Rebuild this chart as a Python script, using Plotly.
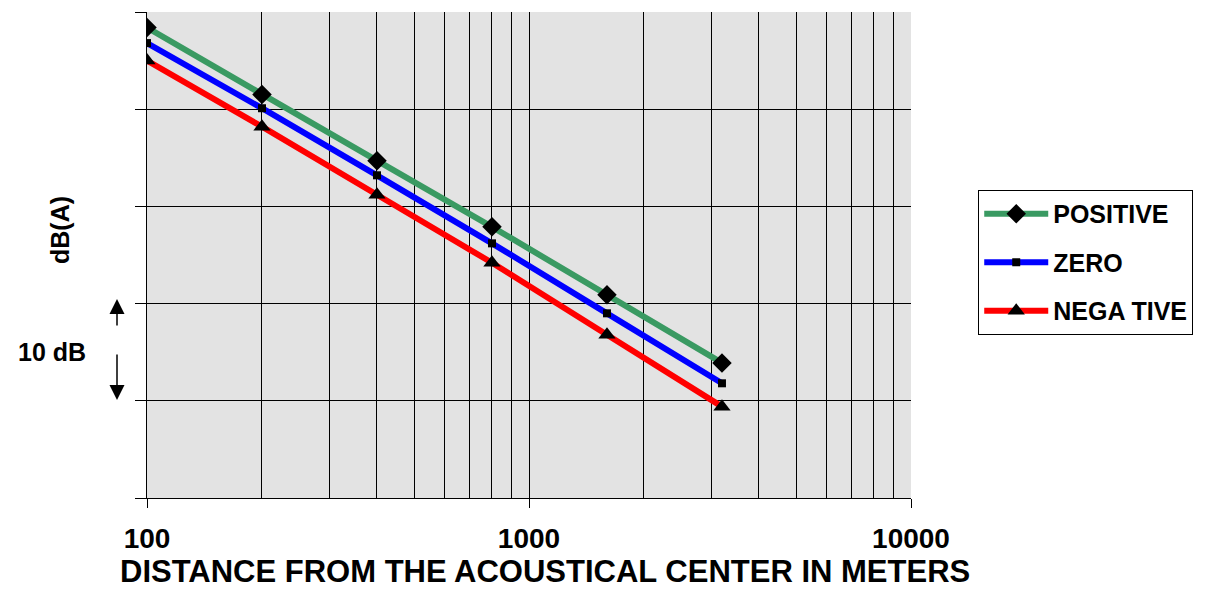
import plotly.graph_objects as go

# ---- data ----
distance_m = [100, 200, 400, 800, 1600, 3200]
positive_db = [48.4, 41.5, 34.7, 27.9, 20.9, 13.9]
zero_db = [46.8, 40.1, 33.2, 26.2, 19.0, 11.8]
negative_db = [45.0, 38.2, 31.2, 24.2, 16.8, 9.4]

series_names = ["POSITIVE", "ZERO", "NEGA TIVE"]
x_major_ticks = [100, 1000, 10000]
x_major_labels = ["100", "1000", "10000"]
x_minor_ticks = [200, 300, 400, 500, 600, 700, 800, 900,
                 2000, 3000, 4000, 5000, 6000, 7000, 8000, 9000]
y_ticks = [0, 10, 20, 30, 40, 50]

FONT = "Liberation Sans, Arial, sans-serif"

fig = go.Figure()
styles = [
    (positive_db, "#3a9a62", "diamond", 15),
    (zero_db, "#0000ff", "square", 8),
    (negative_db, "#ff0000", "triangle-up", 15),
]
for name, (vals, col, sym, sz) in zip(series_names, styles):
    fig.add_trace(go.Scatter(
        x=distance_m, y=vals, name="<b>" + name + "</b>", legendgroup=name,
        mode="lines+markers",
        line=dict(color=col, width=6),
        marker=dict(symbol=sym, size=sz, color="black"),
    ))

fig.update_layout(
    width=1211, height=591,
    margin=dict(l=147, r=300, t=12, b=93),
    paper_bgcolor="white",
    plot_bgcolor="#e3e3e3",
    showlegend=True,
    legend=dict(
        x=1.088, y=0.634, xanchor="left", yanchor="top",
        bgcolor="white", bordercolor="black", borderwidth=1,
        font=dict(family=FONT, size=25, color="black"),
        traceorder="grouped", tracegroupgap=13, itemwidth=64,
    ),
    xaxis=dict(
        type="log", range=[2, 4],
        tickvals=x_major_ticks, ticktext=["<b>" + t + "</b>" for t in x_major_labels],
        ticks="outside", ticklen=9, tickcolor="black", tickwidth=1,
        ticklabelstandoff=6,
        tickfont=dict(family=FONT, size=28, color="black"),
        showgrid=True, gridcolor="black", gridwidth=1,
        minor=dict(tickvals=x_minor_ticks, showgrid=True,
                   gridcolor="black", gridwidth=1, ticks=""),
        showline=True, linecolor="black", linewidth=1,
        zeroline=False,
    ),
    yaxis=dict(
        range=[0, 50], tickvals=y_ticks, showticklabels=False,
        ticks="outside", ticklen=11, tickcolor="black", tickwidth=1,
        showgrid=True, gridcolor="black", gridwidth=1,
        showline=True, linecolor="black", linewidth=1,
        zeroline=False,
    ),
    annotations=[
        dict(text="<b>DISTANCE FROM THE ACOUSTICAL CENTER IN METERS</b>",
             xref="paper", yref="paper", x=(545 - 147) / 764, y=-(571 - 498) / 486,
             xanchor="center", yanchor="middle", showarrow=False,
             font=dict(family=FONT, size=31, color="black")),
        dict(text="<b>dB(A)</b>", xref="paper", yref="paper",
             x=(60 - 147) / 764, y=(498 - 230) / 486, textangle=-90,
             xanchor="center", yanchor="middle", showarrow=False,
             font=dict(family=FONT, size=25, color="black")),
        dict(text="<b>10 dB</b>", xref="paper", yref="paper",
             x=(52 - 147) / 764, y=(498 - 352) / 486,
             xanchor="center", yanchor="middle", showarrow=False,
             font=dict(family=FONT, size=25, color="black")),
        dict(text="", xref="paper", yref="paper",
             x=(117 - 147) / 764, y=(498 - 299) / 486, ax=0, ay=28,
             showarrow=True, arrowhead=2, arrowsize=2, arrowwidth=1.5,
             arrowcolor="black"),
        dict(text="", xref="paper", yref="paper",
             x=(117 - 147) / 764, y=(498 - 400) / 486, ax=0, ay=-47,
             showarrow=True, arrowhead=2, arrowsize=2, arrowwidth=1.5,
             arrowcolor="black"),
    ],
)

fig.write_html("out.html")
